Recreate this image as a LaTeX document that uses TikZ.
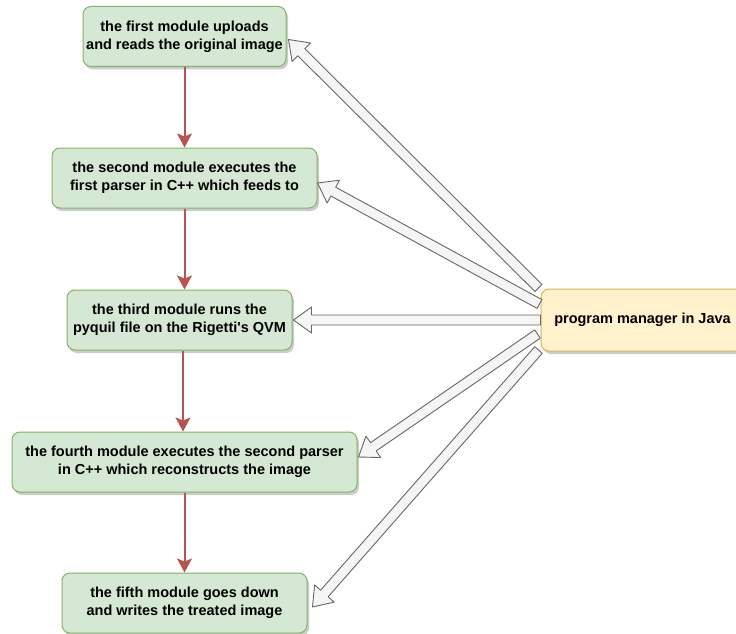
\documentclass[tikz,border=0pt]{standalone}
\usepackage{fontspec}
\setmainfont{Liberation Sans}
\usetikzlibrary{calc,shadows,arrows.meta}
\definecolor{modfill}{HTML}{D5E8D4}
\definecolor{moddraw}{HTML}{82B366}
\definecolor{javafill}{HTML}{FFF2CC}
\definecolor{javadraw}{HTML}{D6B656}
\definecolor{flowred}{HTML}{B85450}
\definecolor{fatfill}{HTML}{F5F5F5}
\definecolor{fatdraw}{HTML}{666666}
\newcommand{\fatarrow}[2]{%
	\coordinate (hb) at ($(#2)!18pt!(#1)$);
	\filldraw[fat] ($(#1)!5pt!90:(#2)$) -- ($(hb)!5pt!-90:(#1)$) -- ($(hb)!13pt!-90:(#1)$) -- (#2) -- ($(hb)!13pt!90:(#1)$) -- ($(hb)!5pt!90:(#1)$) -- ($(#1)!5pt!-90:(#2)$) -- cycle;}
\begin{document}
\begin{tikzpicture}[x=1pt, y=-1pt, font=\fontsize{14.5}{18}\selectfont\bfseries, line join=round,
	module/.style={draw=moddraw, fill=modfill, line width=1pt, rounded corners=8pt, align=center, minimum height=60pt, inner sep=0pt, drop shadow={shadow xshift=2pt, shadow yshift=-3pt, fill=black, opacity=0.2}},
	manager/.style={module, draw=javadraw, fill=javafill},
	flow/.style={draw=flowred, line width=2pt, -{Stealth[length=14pt, width=15pt, inset=3pt]}},
	fat/.style={draw=fatdraw, fill=fatfill, line width=0.9pt}]
	\clip (0,0) rectangle (736,634);
	\node[module, minimum width=203pt] (m1) at (184.5,36.5) {the first module uploads\\and reads the original image};
	\node[module, minimum width=265pt] (m2) at (184.5,178) {the second module executes the\\first parser in C++ which feeds to};
	\node[module, minimum width=225pt] (m3) at (179.5,320) {the third module runs the\\pyquil file on the Rigetti\textquotesingle s QVM};
	\node[module, minimum width=345pt] (m4) at (184.5,462) {the fourth module executes the second parser\\in C++ which reconstructs the image};
	\node[module, minimum width=245pt] (m5) at (184.5,603) {the fifth module goes down\\and writes the treated image};
	\node[manager, minimum width=203pt, minimum height=62pt] (java) at (642.5,320) {program manager in Java};
	% steps of the chain
	\coordinate (s3) at ($(m3.south)+(3.5,0)$);
	\draw[flow] (m1.south) -- (m1.south |- m2.north);
	\draw[flow] (m2.south) -- (m2.south |- m3.north);
	\draw[flow] (s3) -- (s3 |- m4.north);
	\draw[flow] (m4.south) -- (m4.south |- m5.north);
	% calls from the manager
	\coordinate (t1) at ($(java.west)+(-2,-32)$);
	\coordinate (t2) at ($(java.west)+(-1,-16)$);
	\coordinate (t3) at (java.west);
	\coordinate (t4) at ($(java.west)+(-3,14)$);
	\coordinate (t5) at ($(java.west)+(-2,30)$);
	\coordinate (p1) at ($(m1.east)+(2,3)$);
	\coordinate (p2) at ($(m2.east)+(0,5)$);
	\coordinate (p3) at ($(m3.east)+(1,0)$);
	\coordinate (p4) at ($(m4.east)+(1,-5)$);
	\coordinate (p5) at ($(m5.east)+(5,4)$);
	\fatarrow{t1}{p1}
	\fatarrow{t2}{p2}
	\fatarrow{t3}{p3}
	\fatarrow{t4}{p4}
	\fatarrow{t5}{p5}
\end{tikzpicture}
\end{document}
